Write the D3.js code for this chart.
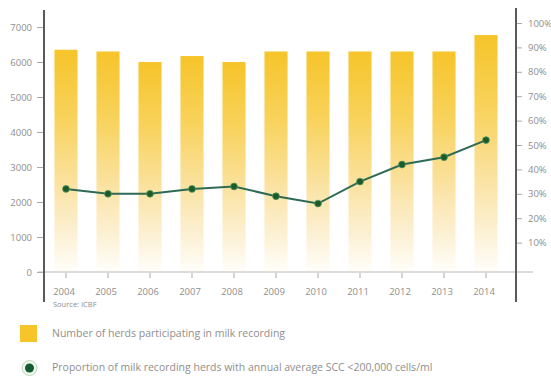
<!DOCTYPE html>
<html>
<head>
<meta charset="utf-8">
<script src="https://cdn.jsdelivr.net/npm/d3@7/dist/d3.min.js"></script>
<style>
  html, body { margin: 0; padding: 0; background: #fff; }
  svg { display: block; font-family: "Open Sans", sans-serif; }
</style>
</head>
<body>
<svg id="chart" width="551" height="377"></svg>
<script>
// Herd recording data, 2004–2014
const years = ["2004","2005","2006","2007","2008","2009","2010","2011","2012","2013","2014"];
const herds = [6350, 6300, 6000, 6170, 6000, 6300, 6300, 6300, 6300, 6300, 6770];
const sccShare = [32, 30, 30, 32, 33, 29, 26, 35, 42, 45, 52];
const leftTicks = [0, 1000, 2000, 3000, 4000, 5000, 6000, 7000];
const rightTicks = [10, 20, 30, 40, 50, 60, 70, 80, 90, 100];
const legendBars = "Number of herds participating in milk recording";
const legendLine = "Proportion of milk recording herds with annual average SCC <200,000 cells/ml";
const sourceText = "Source: ICBF";

const svg = d3.select("#chart");
const textColor = "#8e8e8e";

const x = d3.scaleBand().domain(years).range([45, 507]).paddingInner(0.45).paddingOuter(0.225);
const yL = d3.scaleLinear().domain([0, 7000]).range([272, 27]);
const yR = d3.scaleLinear().domain([0, 100]).range([267, 23]);

// vertical fade for the bars
const defs = svg.append("defs");
const grad = defs.append("linearGradient").attr("id", "barFade")
  .attr("x1", 0).attr("y1", 0).attr("x2", 0).attr("y2", 1);
[[0, "#f6c42a"], [0.3, "#f8d25a"], [0.6, "#fae2a0"], [0.82, "#fcf0d2"], [1, "#fffefa"]]
  .forEach(([o, c]) => grad.append("stop").attr("offset", o).attr("stop-color", c));

// bars
svg.append("g").selectAll("rect").data(years).join("rect")
  .attr("x", d => x(d))
  .attr("width", x.bandwidth())
  .attr("y", (d, i) => yL(herds[i]))
  .attr("height", (d, i) => yL(0) - yL(herds[i]))
  .attr("fill", "url(#barFade)");

// baseline
svg.append("line").attr("x1", 38).attr("x2", 533)
  .attr("y1", yL(0)).attr("y2", yL(0))
  .attr("stroke", "#b8b8b8").attr("stroke-width", 1);

// x ticks and labels
const cx = d => x(d) + x.bandwidth() / 2;
svg.append("g").selectAll("line").data(years).join("line")
  .attr("x1", cx).attr("x2", cx).attr("y1", yL(0) + 1).attr("y2", yL(0) + 6)
  .attr("stroke", "#aaa").attr("stroke-width", 1);
svg.append("g").selectAll("text").data(years).join("text")
  .attr("x", d => cx(d) - 2).attr("y", 295)
  .attr("text-anchor", "middle")
  .attr("font-size", 9.5).attr("fill", textColor)
  .text(d => d);

// left axis
const leftAxis = svg.append("g").attr("transform", "translate(44,0)")
  .call(d3.axisLeft(yL).tickValues(leftTicks).tickSize(7).tickPadding(5).tickFormat(d3.format("d")));
leftAxis.select(".domain").remove();
leftAxis.selectAll(".tick line").attr("stroke", "#aaa");
leftAxis.selectAll(".tick text").attr("font-size", 9.5).attr("fill", textColor)
  .attr("font-family", "Open Sans, sans-serif");
svg.append("line").attr("x1", 44).attr("x2", 44).attr("y1", 10).attr("y2", 302)
  .attr("stroke", "#5a5a5a").attr("stroke-width", 2);

// right axis
const rightAxis = svg.append("g").attr("transform", "translate(516,0)")
  .call(d3.axisRight(yR).tickValues(rightTicks).tickSize(6).tickPadding(6).tickFormat(d => d + "%"));
rightAxis.select(".domain").remove();
rightAxis.selectAll(".tick line").attr("stroke", "#aaa");
rightAxis.selectAll(".tick text").attr("font-size", 9.5).attr("fill", textColor)
  .attr("font-family", "Open Sans, sans-serif");
svg.append("line").attr("x1", 516).attr("x2", 516).attr("y1", 8).attr("y2", 302)
  .attr("stroke", "#5a5a5a").attr("stroke-width", 2);

// SCC share line
const line = d3.line().x(d => cx(d.year)).y(d => yR(d.v));
const pts = years.map((y, i) => ({ year: y, v: sccShare[i] }));
svg.append("path").datum(pts).attr("d", line)
  .attr("fill", "none").attr("stroke", "#2f6a55").attr("stroke-width", 2);
svg.append("g").selectAll("circle").data(pts).join("circle")
  .attr("cx", d => cx(d.year)).attr("cy", d => yR(d.v)).attr("r", 3.4)
  .attr("fill", "#1c5a2a").attr("stroke", "#4f9a5a").attr("stroke-width", 0.8);

// source note
svg.append("text").attr("x", 53).attr("y", 307)
  .attr("font-size", 7.5).attr("fill", textColor).text(sourceText);

// legend
svg.append("rect").attr("x", 20).attr("y", 325).attr("width", 17).attr("height", 17)
  .attr("fill", "#f6c52a");
svg.append("text").attr("x", 52).attr("y", 337)
  .attr("font-size", 10.5).attr("fill", textColor).text(legendBars);
svg.append("circle").attr("cx", 29.5).attr("cy", 368).attr("r", 7.5)
  .attr("fill", "#eef6ee").attr("stroke", "#b8d8b8").attr("stroke-width", 1);
svg.append("circle").attr("cx", 29.5).attr("cy", 368).attr("r", 4.5)
  .attr("fill", "#145a32");
svg.append("text").attr("x", 52).attr("y", 371)
  .attr("font-size", 10.5).attr("fill", textColor).text(legendLine);
</script>
</body>
</html>
